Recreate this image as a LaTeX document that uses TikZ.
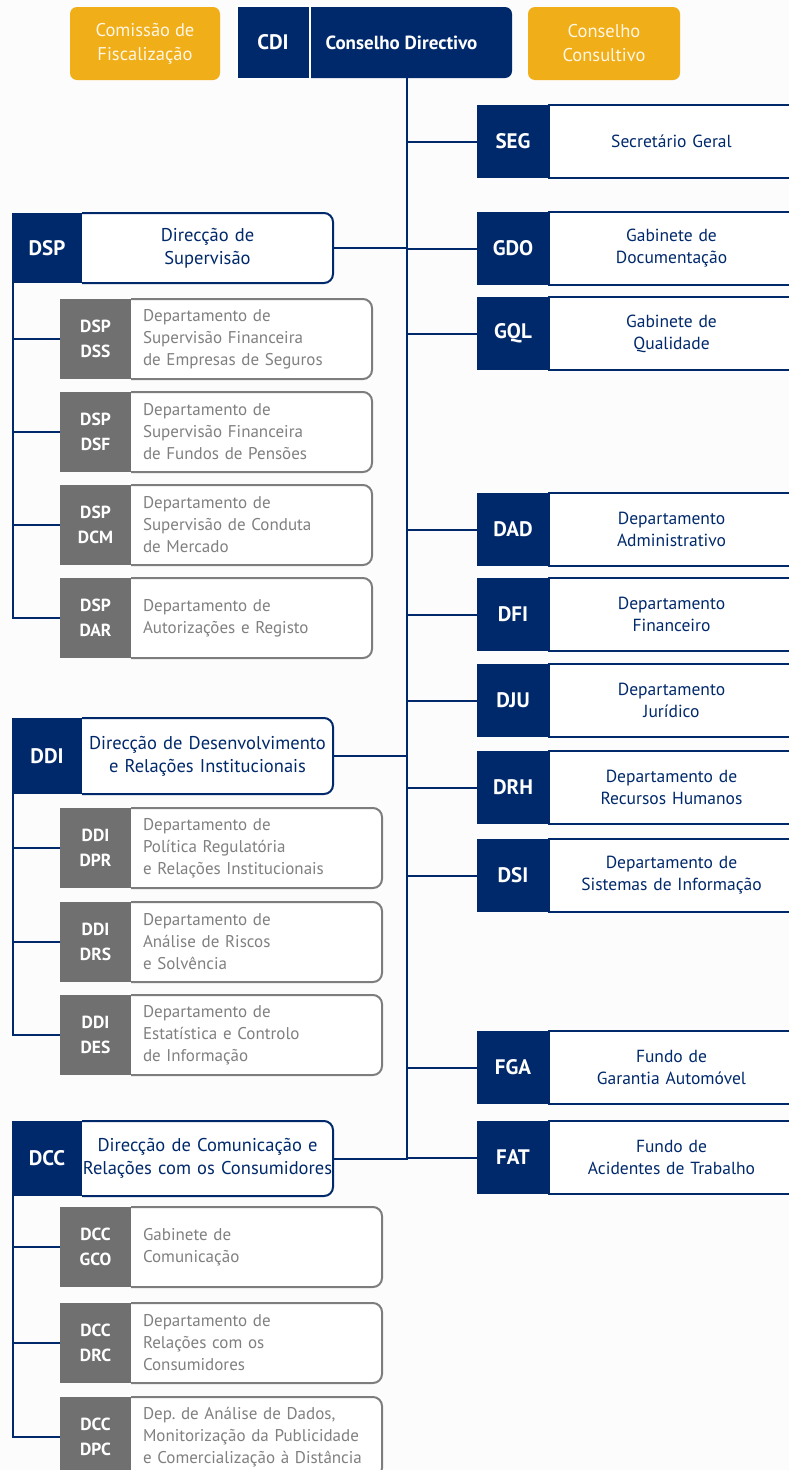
\documentclass[tikz,border=0pt]{standalone}
\usepackage{fontspec}
\setmainfont{PT Sans}
\usetikzlibrary{positioning}

\definecolor{navy}{RGB}{0,41,107}
\definecolor{amber}{RGB}{240,174,24}
\definecolor{slate}{RGB}{112,112,112}
\definecolor{greyline}{RGB}{125,125,125}
\definecolor{greytext}{RGB}{128,128,128}
\definecolor{cream}{RGB}{255,246,228}
\definecolor{paper}{RGB}{252,252,252}

\tikzset{
  every node/.style={outer sep=0pt},
  conn/.style={draw=navy, line width=2pt},
  topbox/.style={fill=amber, rounded corners=7pt, anchor=north west, minimum width=150pt, minimum height=73pt, inner sep=0pt, align=center, text=cream, font=\fontsize{18.5}{24}\selectfont},
  rcode/.style={fill=navy, text=white, anchor=north west, minimum width=72pt, minimum height=73pt, inner sep=0pt, font=\bfseries\fontsize{21}{22}\selectfont},
  rname/.style={draw=navy, line width=2pt, fill=white, minimum width=245pt, minimum height=73pt, inner xsep=4pt, text width=237pt, align=center, text=navy, font=\fontsize{17.5}{22}\selectfont},
  hcode/.style={fill=navy, text=white, anchor=north west, minimum width=70pt, inner sep=0pt, font=\bfseries\fontsize{21}{22}\selectfont},
  hname/.style={fill=white, inner xsep=0pt, text width=251pt, align=center, text=navy, font=\fontsize{18.5}{23}\selectfont},
  hframe/.style={draw=navy, line width=2pt, rounded corners=9pt},
  ccode/.style={fill=slate, text=white, anchor=north west, minimum width=71pt, minimum height=80pt, inner sep=0pt, align=center, font=\bfseries\fontsize{17.5}{25}\selectfont},
  cname/.style={fill=white, inner xsep=12pt, minimum height=80pt, align=left, text=greytext, font=\fontsize{17}{22}\selectfont},
  cframe/.style={draw=greyline, line width=2pt, rounded corners=9pt},
}

\begin{document}
\begin{tikzpicture}[x=1pt, y=-1pt]
\fill[paper] (0,0) rectangle (789,1470);
\useasboundingbox (0,0) rectangle (789,1470);

\node[topbox] (com) at (70,7) {Comissão de\\Fiscalização};
\node[fill=navy, rounded corners=7pt, anchor=north east, minimum width=221pt, minimum height=71pt, text=white, font=\bfseries\fontsize{19}{20}\selectfont] (cd) at (512,7) {Conselho Directivo};
\node[fill=navy, draw=white, line width=2pt, minimum width=73pt, minimum height=73pt, inner sep=0pt, text=white, font=\bfseries\fontsize{21}{22}\selectfont] (cdi) at (273,42.5) {CDI};
\node[topbox, minimum width=152pt] (cons) at (528,7) {Conselho\\Consultivo};
\coordinate (trunk) at (407,78);

\node[rcode] (seg) at (477,105) {SEG};
\node[rname, right=0pt of seg] (segn) {Secretário Geral};
\node[rcode] (gdo) at (477,212) {GDO};
\node[rname, right=0pt of gdo] (gdon) {Gabinete de\\Documentação};
\node[rcode] (gql) at (477,297) {GQL};
\node[rname, right=0pt of gql] (gqln) {Gabinete de\\Qualidade};
\node[rcode] (dad) at (477,493) {DAD};
\node[rname, right=0pt of dad] (dadn) {Departamento\\Administrativo};
\node[rcode] (dfi) at (477,578) {DFI};
\node[rname, right=0pt of dfi] (dfin) {Departamento\\Financeiro};
\node[rcode] (dju) at (477,664) {DJU};
\node[rname, right=0pt of dju] (djun) {Departamento\\Jurídico};
\node[rcode] (drh) at (477,751) {DRH};
\node[rname, right=0pt of drh] (drhn) {Departamento de\\Recursos Humanos};
\node[rcode] (dsi) at (477,839) {DSI};
\node[rname, right=0pt of dsi] (dsin) {Departamento de\\Sistemas de Informação};
\node[rcode] (fga) at (477,1031) {FGA};
\node[rname, right=0pt of fga] (fgan) {Fundo de\\Garantia Automóvel};
\node[rcode] (fat) at (477,1121) {FAT};
\node[rname, right=0pt of fat] (fatn) {Fundo de\\Acidentes de Trabalho};

\node[hcode, minimum height=70pt] (dsp) at (12,213) {DSP};
\node[hname, minimum height=70pt, right=0pt of dsp] (dspn) {Direcção de\\Supervisão};
\draw[hframe] (dspn.north west) -- (dspn.north east) -- (dspn.south east) -- (dspn.south west);
\node[ccode] (dss) at (60,299) {DSP\\DSS};
\node[cname, text width=217pt, right=0pt of dss] (dssn) {Departamento de\\Supervisão Financeira\\de Empresas de Seguros};
\draw[cframe] (dssn.north west) -- (dssn.north east) -- (dssn.south east) -- (dssn.south west);
\node[ccode] (dsf) at (60,392) {DSP\\DSF};
\node[cname, text width=217pt, right=0pt of dsf] (dsfn) {Departamento de\\Supervisão Financeira\\de Fundos de Pensões};
\draw[cframe] (dsfn.north west) -- (dsfn.north east) -- (dsfn.south east) -- (dsfn.south west);
\node[ccode] (dcm) at (60,485) {DSP\\DCM};
\node[cname, text width=217pt, right=0pt of dcm] (dcmn) {Departamento de\\Supervisão de Conduta\\de Mercado};
\draw[cframe] (dcmn.north west) -- (dcmn.north east) -- (dcmn.south east) -- (dcmn.south west);
\node[ccode] (dar) at (60,578) {DSP\\DAR};
\node[cname, text width=217pt, right=0pt of dar] (darn) {Departamento de\\Autorizações e Registo};
\draw[cframe] (darn.north west) -- (darn.north east) -- (darn.south east) -- (darn.south west);

\node[hcode, minimum height=76pt] (ddi) at (12,718) {DDI};
\node[hname, minimum height=76pt, right=0pt of ddi] (ddin) {Direcção de Desenvolvimento\\e Relações Institucionais};
\draw[hframe] (ddin.north west) -- (ddin.north east) -- (ddin.south east) -- (ddin.south west);
\node[ccode] (dpr) at (60,808) {DDI\\DPR};
\node[cname, text width=227pt, right=0pt of dpr] (dprn) {Departamento de\\Política Regulatória\\e Relações Institucionais};
\draw[cframe] (dprn.north west) -- (dprn.north east) -- (dprn.south east) -- (dprn.south west);
\node[ccode] (drs) at (60,902) {DDI\\DRS};
\node[cname, text width=227pt, right=0pt of drs] (drsn) {Departamento de\\Análise de Riscos\\e Solvência};
\draw[cframe] (drsn.north west) -- (drsn.north east) -- (drsn.south east) -- (drsn.south west);
\node[ccode] (des) at (60,995) {DDI\\DES};
\node[cname, text width=227pt, right=0pt of des] (desn) {Departamento de\\Estatística e Controlo\\de Informação};
\draw[cframe] (desn.north west) -- (desn.north east) -- (desn.south east) -- (desn.south west);

\node[hcode, minimum height=75pt] (dcc) at (12,1121) {DCC};
\node[hname, minimum height=75pt, right=0pt of dcc] (dccn) {Direcção de Comunicação e\\Relações com os Consumidores};
\draw[hframe] (dccn.north west) -- (dccn.north east) -- (dccn.south east) -- (dccn.south west);
\node[ccode] (gco) at (60,1207) {DCC\\GCO};
\node[cname, text width=227pt, right=0pt of gco] (gcon) {Gabinete de\\Comunicação};
\draw[cframe] (gcon.north west) -- (gcon.north east) -- (gcon.south east) -- (gcon.south west);
\node[ccode] (drc) at (60,1303) {DCC\\DRC};
\node[cname, text width=227pt, right=0pt of drc] (drcn) {Departamento de\\Relações com os\\Consumidores};
\draw[cframe] (drcn.north west) -- (drcn.north east) -- (drcn.south east) -- (drcn.south west);
\node[ccode] (dpc) at (60,1397) {DCC\\DPC};
\node[cname, text width=227pt, right=0pt of dpc] (dpcn) {Dep.\ de Análise de Dados,\\Monitorização da Publicidade\\e Comercialização à Distância};
\draw[cframe] (dpcn.north west) -- (dpcn.north east) -- (dpcn.south east) -- (dpcn.south west);

\draw[conn] (trunk) |- (seg.west);
\draw[conn] (trunk) |- (gdo.west);
\draw[conn] (trunk) |- (gql.west);
\draw[conn] (trunk) |- (dad.west);
\draw[conn] (trunk) |- (dfi.west);
\draw[conn] (trunk) |- (dju.west);
\draw[conn] (trunk) |- (drh.west);
\draw[conn] (trunk) |- (dsi.west);
\draw[conn] (trunk) |- (fga.west);
\draw[conn] (trunk) |- (fat.west);
\draw[conn] (trunk) |- (dspn.east);
\draw[conn] (trunk) |- (ddin.east);
\draw[conn] (trunk) |- (dccn.east);

\draw[conn] ([xshift=1pt]dsp.south west) |- (dss.west);
\draw[conn] ([xshift=1pt]dsp.south west) |- (dsf.west);
\draw[conn] ([xshift=1pt]dsp.south west) |- (dcm.west);
\draw[conn] ([xshift=1pt]dsp.south west) |- (dar.west);
\draw[conn] ([xshift=1pt]ddi.south west) |- (dpr.west);
\draw[conn] ([xshift=1pt]ddi.south west) |- (drs.west);
\draw[conn] ([xshift=1pt]ddi.south west) |- (des.west);
\draw[conn] ([xshift=1pt]dcc.south west) |- (gco.west);
\draw[conn] ([xshift=1pt]dcc.south west) |- (drc.west);
\draw[conn] ([xshift=1pt]dcc.south west) |- (dpc.west);
\end{tikzpicture}
\end{document}
